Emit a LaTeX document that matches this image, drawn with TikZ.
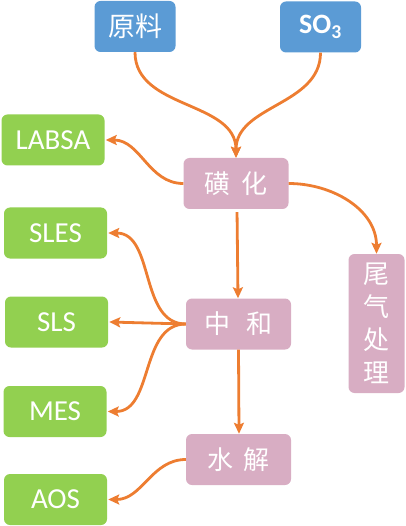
\documentclass[tikz,border=0pt]{standalone}
\usepackage{fontspec}
\setmainfont{Carlito}
\newfontfamily\cjk{Noto Sans CJK SC}
\usetikzlibrary{arrows.meta}
\definecolor{cblue}{HTML}{5B9BD5}
\definecolor{cgreen}{HTML}{92D050}
\definecolor{cpink}{HTML}{D8ADC3}
\definecolor{corange}{HTML}{ED7D31}
\tikzset{
  box/.style={rounded corners=6pt, inner sep=0pt, text=white, anchor=center},
  bluebox/.style={box, fill=cblue, minimum width=81pt, minimum height=51pt},
  greenbox/.style={box, fill=cgreen, minimum width=103pt, minimum height=51pt, font=\fontsize{29}{30}\selectfont},
  pinkbox/.style={box, fill=cpink, minimum width=105pt, minimum height=51pt, font=\cjk\fontsize{26}{28}\selectfont},
  conn/.style={draw=corange, line width=2.8pt, -{Stealth[length=11pt,width=10pt,inset=2pt]}},
}
\begin{document}
\begin{tikzpicture}[x=1pt,y=-1pt]
\useasboundingbox (0,0) rectangle (405,526);
\node[bluebox, font=\cjk\fontsize{27}{28}\selectfont] (raw) at (135,26.5) {原料};
\node[bluebox, font=\bfseries\fontsize{28}{28}\selectfont] (so3) at (320.5,27) {SO$_\mathbf{3}$};
\node[pinkbox] (sulf) at (236,183.5) {磺\hspace{0.4em}化};
\node[greenbox] (labsa) at (53,140) {LABSA};
\node[greenbox] (sles) at (55.5,233) {SLES};
\node[greenbox] (sls) at (56.5,322) {SLS};
\node[greenbox] (mes) at (55,411.5) {MES};
\node[greenbox] (aos) at (55.5,499.5) {AOS};
\node[pinkbox] (neut) at (238.5,324) {中\hspace{0.6em}和};
\node[pinkbox] (hydr) at (238.5,459.5) {水\hspace{0.4em}解};
\node[box, fill=cpink, minimum width=56pt, minimum height=139pt, font=\cjk\fontsize{26}{33}\selectfont, align=center] (tail) at (376.5,323.5) {尾\\气\\处\\理};
\draw[conn] (raw.south) to[out=-90,in=90] (sulf.north);
\draw[conn] (so3.south) to[out=-90,in=90] (sulf.north);
\draw[conn] (sulf.west) to[out=180,in=0] ([xshift=1pt]labsa.east);
\draw[conn] (sulf.east) to[out=0,in=90] (tail.north);
\draw[conn, shorten <=3pt] ([xshift=1pt]sulf.south) -- ([xshift=-0.5pt]neut.north);
\draw[conn] (neut.west) to[out=180,in=0] ([xshift=1pt]sles.east);
\draw[conn] (neut.west) -- ([xshift=1pt]sls.east);
\draw[conn] (neut.west) to[out=180,in=0] ([xshift=1pt]mes.east);
\draw[conn] (neut.south) -- ([xshift=0.5pt]hydr.north);
\draw[conn] (hydr.west) to[out=180,in=0] ([xshift=1pt]aos.east);
\end{tikzpicture}
\end{document}
